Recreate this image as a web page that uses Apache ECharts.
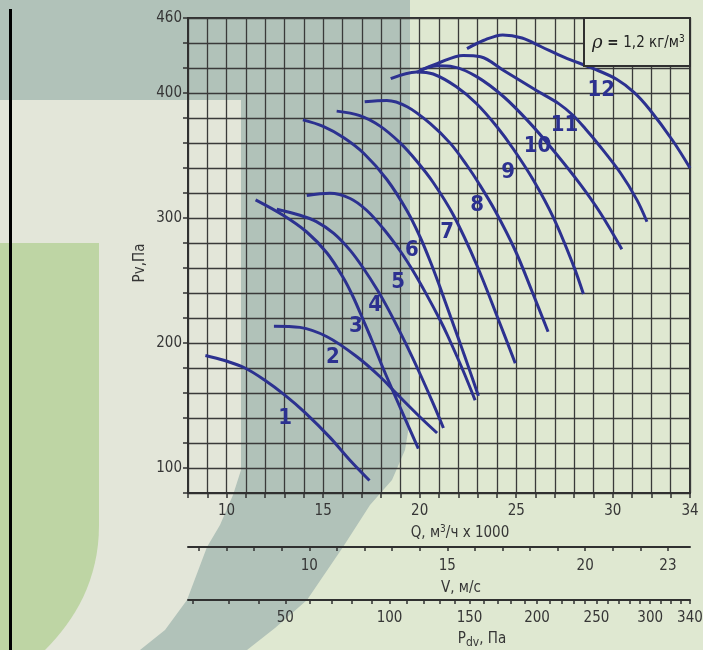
<!DOCTYPE html>
<html><head><meta charset="utf-8">
<script src="https://cdn.jsdelivr.net/npm/echarts@6/dist/echarts.min.js"></script>
<style>html,body{margin:0;padding:0;background:#dfe8d1;}#c{width:703px;height:650px;}</style>
</head><body><div id="c"></div>
<script>
// ---- data (Q in thousand m3/h, Pv in Pa) ----
const curveNames = ['1','2','3','4','5','6','7','8','9','10','11','12'];
const curve1  = [[8.9,190],[9.9,186],[10.95,180],[12,170],[13,158.5],[14.05,144.5],[15.35,124.5],[16.4,106],[17.4,90]];
const curve2  = [[12.45,213.5],[13.8,212.5],[15.2,205],[16.75,189],[17.95,173],[18.8,159.5],[20,141],[20.9,128]];
const curve3  = [[11.5,314.5],[12.95,302],[14.15,288.8],[15.2,272],[16.05,252],[16.55,237],[17.1,217.5],[17.5,203],[18.1,180],[18.8,155],[19.93,115.5]];
const curve4  = [[12.6,307],[13.8,302.2],[14.65,297.1],[15.55,287.7],[16.4,274.1],[17.1,259.4],[17.8,242.6],[18.3,229.1],[18.8,214.3],[19.4,195.7],[20.05,174.2],[20.7,151.5],[21.23,132]];
const curve5  = [[14.15,318],[15.35,319.8],[16.4,315.6],[17.25,306.2],[18.1,291.8],[19,273.4],[19.65,257.8],[20.35,238.9],[21.05,218.6],[21.45,205.8],[22.25,177.8],[22.87,154.2]];
const curve6  = [[13.95,378.5],[15,373.3],[16.05,364.4],[17.1,351.8],[18.3,330.8],[19.35,305.6],[20.02,284.8],[20.55,265.2],[21.05,244.7],[21.6,221],[22.1,199.5],[22.6,177.5],[23.04,157.7]];
const curve7  = [[15.7,385.5],[16.9,381.9],[17.95,373.5],[19,359.9],[19.85,345.4],[20.7,328.4],[21.75,302.2],[22.95,262.6],[24.15,215.8],[24.95,183.8]];
const curve8  = [[17.15,393],[18.3,394],[19.35,389],[20.55,375.5],[21.6,359.5],[22.45,342],[23.05,328],[23.9,306],[24.95,274],[25.8,242],[26.65,209]];
const curve9  = [[18.5,411.5],[19.85,416.9],[20.7,415.2],[21.9,405],[22.95,391.4],[24,373],[24.85,355.2],[25.9,330],[26.95,299.5],[27.95,262.5],[28.48,239.2]];
const curve10 = [[19.85,416.5],[20.9,421.75],[21.75,420.9],[22.95,413.1],[24.35,397],[25.7,376.1],[26.95,353.6],[28.3,327.3],[29.35,304.2],[30.47,275]];
const curve11 = [[20,418],[20.9,423.5],[22.25,430],[23.15,429],[24.35,418],[26.05,402],[27.2,391.5],[27.95,382],[28.6,371],[29.2,360],[30.4,336],[31.25,314.5],[31.77,297]];
const curve12 = [[22.45,435.5],[23.3,442],[24.3,446.5],[25.3,444],[26.3,437],[27.5,428.5],[29,419.5],[30.2,411],[31.1,400.5],[31.9,387],[33.1,362],[34,340]];
const labelPos = [[13.03,139.8],[15.51,188.6],[16.7,213.4],[17.69,230.2],[18.88,248.6],[19.6,274],[21.42,288.4],[22.97,310],[24.58,336.4],[26.1,357.4],[27.5,374.2],[29.4,402.2]];
const qTickLabels = [10,15,20,25,30,34];
const yTickLabels = [100,200,300,400,460];
const vTicks = [6,7,8,9,10,11,12,13,14,15,16,17,18,19,20,21,22,23];
const vTickLabels = [10,15,20,23];
const pTicks = [20,30,40,50,60,70,80,90,100,110,120,130,140,150,160,170,180,190,200,210,220,230,240,250,260,270,280,290,300,310,320,330,340];
const pTickLabels = [50,100,150,200,250,300,340];
const Q_MIN = 8, Q_MAX = 34;
const V_PER_Q = 0.7;   // V [m/s] = 0.7 * Q
const RHO = 1.2;       // Pdv = rho/2 * V^2

const curves = [curve1,curve2,curve3,curve4,curve5,curve6,curve7,curve8,curve9,curve10,curve11,curve12];
const FF = "'Liberation Sans Narrow','DejaVu Sans Condensed',sans-serif";
const TXT = '#363636';
const AX = '#303030';
const BLUE = '#2c3190';
const k = Math.sqrt(RHO/2);

// decorative background shape: green block with rounded lower-right corner
function greenBlock(){
  const pts = [[0,243],[99,243],[99,525]];
  const p0=[99,525], c1=[99,580], c2=[75,620], p3=[45,650];
  for(let i=1;i<=16;i++){
    const t=i/16, u=1-t;
    pts.push([u*u*u*p0[0]+3*u*u*t*c1[0]+3*u*t*t*c2[0]+t*t*t*p3[0],
              u*u*u*p0[1]+3*u*u*t*c1[1]+3*u*t*t*c2[1]+t*t*t*p3[1]]);
  }
  pts.push([0,650]);
  return pts;
}

const chart = echarts.init(document.getElementById('c'), null, {renderer:'canvas'});

const labelCommon = {color:TXT, fontSize:15, fontFamily:FF};
const axisLine = {show:true, onZero:false, lineStyle:{color:AX, width:2}};

const option = {
  backgroundColor:'#dfe8d1',
  animation:false,
  grid:{left:188, right:13, top:18, bottom:157, containLabel:false, outerBoundsMode:'none',
        show:true, borderColor:AX, borderWidth:2, backgroundColor:'transparent'},
  xAxis:[
    {type:'value', min:Q_MIN, max:Q_MAX, interval:1, position:'bottom',
     axisLine, axisTick:{show:true, length:5, lineStyle:{color:AX, width:1.5}},
     axisLabel:Object.assign({customValues:qTickLabels, margin:11}, labelCommon),
     splitLine:{show:true, lineStyle:{color:'#3a3a3a', width:1.3}}},
    {type:'value', min:Q_MIN*V_PER_Q, max:Q_MAX*V_PER_Q, position:'bottom', offset:54,
     axisLine, axisTick:{show:true, customValues:vTicks, length:4, lineStyle:{color:AX, width:1.5}},
     axisLabel:Object.assign({customValues:vTickLabels, margin:12}, labelCommon),
     splitLine:{show:false}},
    {type:'value', min:k*Q_MIN*V_PER_Q, max:Math.sqrt(pTickLabels[pTickLabels.length-1]), position:'bottom', offset:107,
     axisLine, axisTick:{show:true, customValues:pTicks.map(Math.sqrt), length:4, lineStyle:{color:AX, width:1.5}},
     axisLabel:Object.assign({customValues:pTickLabels.map(Math.sqrt), margin:11, formatter:v=>String(Math.round(v*v))}, labelCommon),
     splitLine:{show:false}}
  ],
  yAxis:{type:'value', min:80, max:460, interval:20,
     axisLine, axisTick:{show:true, length:5, lineStyle:{color:AX, width:1.5}},
     axisLabel:Object.assign({customValues:yTickLabels, margin:6}, labelCommon),
     splitLine:{show:true, lineStyle:{color:'#3a3a3a', width:1.3}}},
  series: curves.map((c,i)=>({
    type:'line', name:curveNames[i], data:c, showSymbol:false, smooth:0.35, silent:true,
    lineStyle:{color:BLUE, width:3}, z:3
  })).concat([{
    type:'scatter', silent:true, symbolSize:2, itemStyle:{color:'transparent', opacity:1}, z:4,
    data: labelPos.map((p,i)=>({value:p, name:curveNames[i]})),
    label:{show:true, position:[1,1], align:'center', verticalAlign:'middle', opacity:1,
           formatter:'{b}', color:BLUE, textBorderWidth:0, fontWeight:'bold', fontSize:22, fontFamily:FF}
  }]),
  graphic:[
    {type:'rect', silent:true, z:-100, shape:{x:0,y:100,width:241,height:550}, style:{fill:'#e3e6d9'}},
    {type:'polygon', silent:true, z:-99, shape:{points:greenBlock()}, style:{fill:'#bed5a4'}},
    {type:'polygon', silent:true, z:-98, shape:{points:[[0,0],[410,0],[410,420],[405,450],[392,480],[370,505],[343,547],[307,600],[275,628],[247,650],[140,650],[165,630],[187,600],[207,547],[220,525],[233,495],[241,470],[241,100],[0,100]]}, style:{fill:'#b1c2b9'}},
    {type:'rect', silent:true, z:-90, shape:{x:9,y:9,width:3,height:641}, style:{fill:'#000'}},
    {type:'rect', silent:true, z:100, shape:{x:584,y:18,width:106,height:48}, style:{fill:'#dfe8d1', stroke:AX, lineWidth:2}},
    {type:'text', silent:true, z:101, x:592, y:43, style:{
      text:'{r|ρ}{e| = }{n|1,2 кг/м}{s|3}', verticalAlign:'middle', fill:'#222',
      rich:{r:{fontStyle:'italic', fontFamily:'DejaVu Serif', fontSize:18, fill:'#222'},
            e:{fontWeight:'bold', fontFamily:FF, fontSize:15, fill:'#222'},
            n:{fontFamily:FF, fontSize:15, fill:'#222'},
            s:{fontFamily:FF, fontSize:10, fill:'#222', padding:[0,0,8,0]}}}},
    {type:'text', silent:true, z:101, x:460, y:533, style:{
      text:'{n|Q, м}{s|3}{n|/ч x 1000}', align:'center', verticalAlign:'middle',
      rich:{n:{fontFamily:FF, fontSize:15, fill:TXT}, s:{fontFamily:FF, fontSize:10, fill:TXT, padding:[0,0,8,0]}}}},
    {type:'text', silent:true, z:101, x:461, y:588, style:{
      text:'V, м/с', align:'center', verticalAlign:'middle', fontFamily:FF, fontSize:15, fill:TXT}},
    {type:'text', silent:true, z:101, x:482, y:639, style:{
      text:'{n|P}{s|dv}{n|, Па}', align:'center', verticalAlign:'middle',
      rich:{n:{fontFamily:FF, fontSize:15, fill:TXT}, s:{fontFamily:FF, fontSize:12, fill:TXT, padding:[7,0,0,0]}}}},
    {type:'text', silent:true, z:101, x:140, y:263, rotation:Math.PI/2, style:{
      text:'Pv,Па', align:'center', verticalAlign:'middle', fontFamily:FF, fontSize:15, fill:TXT}}
  ]
};
chart.setOption(option);
</script>
</body></html>
